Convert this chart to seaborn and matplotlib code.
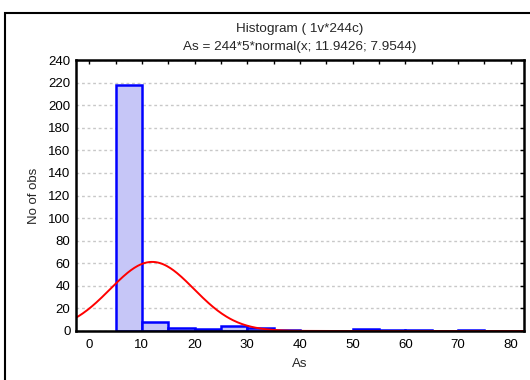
import numpy as np
import pandas as pd
import matplotlib
matplotlib.use("Agg")
import matplotlib.pyplot as plt
import seaborn as sns
from matplotlib.patches import Rectangle

bin_edges = [5, 10, 15, 20, 25, 30, 35, 40, 45, 50, 55, 60, 65, 70, 75]
counts = [218, 8, 3, 2, 4, 3, 1, 0, 0, 2, 1, 1, 0, 1]
n_obs = 244
mu, sigma = 11.9426, 7.9544
title = "Histogram ( 1v*244c)\nAs = 244*5*normal(x; 11.9426; 7.9544)"

sns.set_style("white")
plt.rcParams['font.family'] = ['Liberation Sans', 'DejaVu Sans']

fig = plt.figure(figsize=(5.3, 3.8), dpi=100)
ax = fig.add_axes([0.1434, 0.129, 0.8453, 0.713])

centers = [(bin_edges[i] + bin_edges[i + 1]) / 2 for i in range(len(counts))]
df = pd.DataFrame({"As": centers, "n": counts})
sns.histplot(data=df, x="As", weights="n", bins=bin_edges, ax=ax,
             color="#c6c6f7", edgecolor="#0000ff", linewidth=1.8, alpha=1, zorder=1.5)

xs = np.linspace(-2.5, 82.5, 400)
ys = n_obs * 5 * np.exp(-0.5 * ((xs - mu) / sigma) ** 2) / (sigma * np.sqrt(2 * np.pi))
sns.lineplot(x=xs, y=ys, ax=ax, color="#ff0000", linewidth=1.4, zorder=2.2)

ax.set_xlim(-2.5, 82.5)
ax.set_ylim(0, 240)
ax.set_xticks(np.arange(0, 81, 5))
ax.set_xticklabels([str(v) if v % 10 == 0 else "" for v in range(0, 81, 5)])
ax.set_yticks(np.arange(0, 241, 20))
ax.tick_params(direction="in", length=3, width=1, top=True, right=True,
               labelsize=9.5, pad=4, colors="black")
ax.tick_params(axis="x", pad=6)
ax.yaxis.grid(True, linestyle=(0, (2, 2)), color="#c8c8c8", linewidth=1)
ax.set_axisbelow(True)
for s in ax.spines.values():
    s.set_linewidth(1.8)
    s.set_color("black")
    s.set_zorder(3)
ax.set_xlabel("As", fontsize=9.5, labelpad=5)
ax.set_ylabel("No of obs", fontsize=9.5, labelpad=6)
ax.set_title(title, fontsize=9.7, linespacing=1.75, pad=7)

fig.patches.append(Rectangle((5 / 530, -0.1), 1.2, 1 - 13 / 380 + 0.1,
                             transform=fig.transFigure, fill=False,
                             edgecolor="black", linewidth=1.5))

fig.savefig("out.png", dpi=100)
